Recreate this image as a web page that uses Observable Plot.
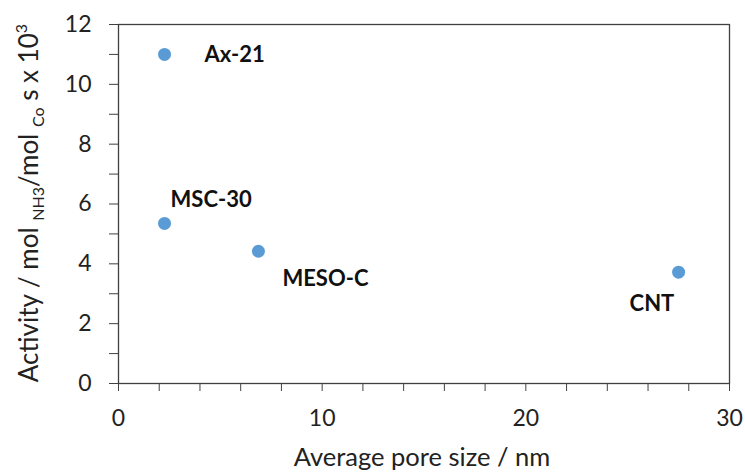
<!DOCTYPE html>
<html>
<head>
<meta charset="utf-8">
<script src="https://cdn.jsdelivr.net/npm/d3@7"></script>
<script src="https://cdn.jsdelivr.net/npm/@observablehq/plot@0.6"></script>
<style>
  html, body { margin: 0; padding: 0; background: #fff; }
  #chart svg { display: block; }
</style>
</head>
<body>
<div id="chart"></div>
<script>
const names = ["Ax-21", "MSC-30", "MESO-C", "CNT"];
const poreSize = [2.26, 2.26, 6.87, 27.5];
const activity = [11.0, 5.35, 4.42, 3.72];
const xTicks = d3.range(0, 31, 2);
const yTicks = d3.range(0, 13, 1);

const data = names.map((n, i) => ({name: n, x: poreSize[i], y: activity[i]}));

const font = "Lato, 'Open Sans', sans-serif";
const axisColor = "#404040";

const label = (name, opts) => Plot.text(data, {
  filter: d => d.name === name, x: "x", y: "y", text: "name",
  fontWeight: "bold", fontSize: 22, fill: "#111", textAnchor: "start", ...opts
});

const chart = Plot.plot({
  width: 745,
  height: 474,
  marginLeft: 118,
  marginRight: 16,
  marginTop: 24,
  marginBottom: 91,
  style: {fontFamily: font, fontSize: "23px", color: "#222", background: "#fff"},
  x: {domain: [0, 30]},
  y: {domain: [0, 12]},
  marks: [
    Plot.frame({stroke: axisColor, strokeWidth: 1.3}),
    Plot.axisX(xTicks, {tickSize: 8, tickPadding: 18, stroke: axisColor, fill: "#222",
      tickFormat: d => d % 10 === 0 ? d : "", label: null}),
    Plot.axisY(yTicks, {tickSize: 9, tickPadding: 18, stroke: axisColor, fill: "#222",
      tickFormat: d => d % 2 === 0 ? d : "", label: null}),
    Plot.dot(data, {x: "x", y: "y", r: 6.5, fill: "#5B9BD5", stroke: "none"}),
    label("Ax-21", {dx: 40, dy: 1}),
    label("MSC-30", {dx: 6, dy: -23}),
    label("MESO-C", {dx: 24, dy: 28}),
    label("CNT", {dx: -49, dy: 32})
  ]
});

const svg = d3.select(chart);
// x-axis title
svg.append("text")
  .attr("x", 422).attr("y", 466)
  .attr("text-anchor", "middle")
  .attr("font-family", font).attr("font-size", 25.5).attr("fill", "#222")
  .text("Average pore size / nm");
// y-axis title with subscripts/superscript
const yl = svg.append("text")
  .attr("transform", "translate(38,203) rotate(-90)")
  .attr("text-anchor", "middle")
  .attr("font-family", font).attr("font-size", 26).attr("fill", "#222");
yl.append("tspan").text("Activity / mol ");
yl.append("tspan").attr("font-size", 16).attr("dy", 6).text("NH3");
yl.append("tspan").attr("dy", -6).text("/mol ");
yl.append("tspan").attr("font-size", 16).attr("dy", 6).text("Co");
yl.append("tspan").attr("dy", -6).text(" s x 10");
yl.append("tspan").attr("font-size", 16).attr("dy", -11).text("3");

document.getElementById("chart").appendChild(chart);
</script>
</body>
</html>
